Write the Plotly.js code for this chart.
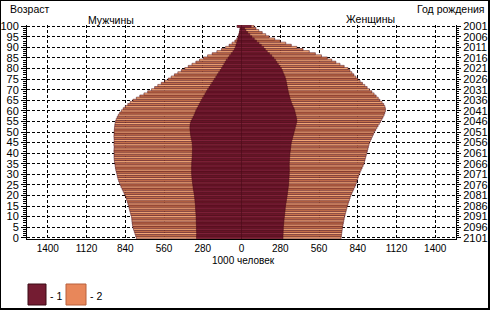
<!DOCTYPE html>
<html>
<head>
<meta charset="utf-8">
<script src="https://cdn.plot.ly/plotly-3.0.1.min.js"></script>
<style>
html,body{margin:0;padding:0;background:#fff;}
#wrap{position:relative;width:490px;height:310px;}
#chart{width:490px;height:310px;}
#frame{position:absolute;left:0;top:0;width:490px;height:310px;box-sizing:border-box;border:1px solid #000;border-right-width:2px;border-bottom-width:2px;pointer-events:none;}
</style>
</head>
<body>
<div id="wrap"><div id="chart"></div><div id="frame"></div></div>
<script>
// Ages 0..100 (single years)
const ages = Array.from({length:101}, (_, i) => i);

// Men: outer edge (series 1 + series 2), thousand people
const maleAll = [
760,765,770,775,780,785,788,790,792,793,
795,800,804,808,812,815,820,825,830,835,
840,848,855,862,870,875,882,888,893,897,
900,904,908,911,913,915,918,920,921,921,
920,922,921,920,922,921,920,921,922,921,
920,919,918,916,914,910,905,898,890,880,
868,855,840,822,805,785,760,735,705,678,
650,628,605,580,555,530,508,485,460,435,
410,385,358,330,303,275,245,212,178,145,
115,90,68,48,34,26,20,15,12,10,32];

// Men: series 1 (dark)
const male1 = [
325,325,324,325,326,325,326,327,327,328,
328,329,330,331,332,332,334,336,337,339,
340,343,345,348,350,352,354,356,358,359,
360,361,360,361,360,360,359,358,357,356,
355,355,354,355,356,357,360,363,366,368,
370,372,373,372,370,365,358,350,342,336,
330,322,314,306,298,290,281,272,263,254,
245,235,225,215,205,195,185,175,165,155,
145,136,127,118,109,97,86,74,62,52,
45,40,35,30,26,22,18,15,12,10,30];

// Women: outer edge (series 1 + series 2)
const femaleAll = [
720,722,724,726,728,730,733,736,739,742,
745,749,753,757,761,765,770,775,780,785,
790,797,804,811,818,825,830,835,840,845,
850,857,864,871,878,885,889,893,897,901,
905,909,913,917,921,925,932,939,946,953,
960,969,978,987,996,1005,1014,1022,1030,1035,
1040,1040,1036,1028,1016,1000,988,973,958,942,
925,908,891,874,857,840,826,812,798,784,
770,742,712,682,652,620,578,534,490,445,
400,360,320,280,240,200,175,150,125,105,90];

// Women: series 1 (dark)
const female1 = [
300,300,301,301,302,302,304,305,307,308,
310,312,313,315,316,318,320,323,325,328,
330,332,334,336,338,340,341,342,343,344,
345,345,346,345,345,345,346,347,348,349,
350,352,354,356,358,360,364,368,372,376,
380,384,388,392,396,400,399,396,392,388,
385,380,373,366,360,355,350,346,342,338,
335,332,329,326,323,320,315,308,301,295,
288,278,266,255,245,232,218,202,186,172,
160,143,126,108,92,75,60,45,32,22,70];

const xTickVals = [-1400,-1120,-840,-560,-280,0,280,560,840,1120,1400];
const xTickText = ['1400','1120','840','560','280','0','280','560','840','1120','1400'];
const ageTicks = [0,5,10,15,20,25,30,35,40,45,50,55,60,65,70,75,80,85,90,95,100];
const birthYearText = ['2101','2096','2091','2086','2081','2076','2071','2066','2061','2056','2051','2046','2041','2036','2031','2026','2021','2016','2011','2006','2001'];

// stripe colours
const orangeCols = ages.map(a => a % 2 ? '#c9734c' : '#f2a676');
const maroonCols = ages.map(a => a % 2 ? '#6a1428' : '#7e2038');
const edge = {color:'#4a0c1a', width:0.5};

const traces = [
  {type:'bar', orientation:'h', y:ages, x:maleAll.map(v=>-v), marker:{color:orangeCols, line:edge}, name:'2', hoverinfo:'skip'},
  {type:'bar', orientation:'h', y:ages, x:femaleAll, marker:{color:orangeCols, line:edge}, name:'2', hoverinfo:'skip'},
  {type:'bar', orientation:'h', y:ages, x:male1.map(v=>-v), marker:{color:maroonCols, line:edge}, name:'1', hoverinfo:'skip'},
  {type:'bar', orientation:'h', y:ages, x:female1, marker:{color:maroonCols, line:edge}, name:'1', hoverinfo:'skip'},
  {type:'scatter', x:[], y:[], yaxis:'y2', hoverinfo:'skip'}
];

const L = 27, R = 456, T = 25, B = 239;
const px = v => (v - L) / (R - L);
const py = v => (B - v) / (B - T);
const font = {family:'Liberation Sans, Arial, sans-serif', size:11, color:'#000'};

const layout = {
  width:490, height:310,
  margin:{l:L, r:490-R, t:T, b:310-B, pad:0},
  paper_bgcolor:'#fff', plot_bgcolor:'#fff',
  showlegend:false,
  barmode:'overlay', bargap:0,
  font:font,
  xaxis:{
    range:[-1550,1550], tickvals:xTickVals, ticktext:xTickText,
    showgrid:true, gridcolor:'#000', gridwidth:1, griddash:'3px,2px',
    zeroline:true, zerolinecolor:'#3a0812', zerolinewidth:1,
    showline:true, linecolor:'#000', linewidth:1,
    ticks:'', tickfont:{family:font.family, size:10, color:'#000'}, fixedrange:true
  },
  yaxis:{
    range:[-0.6,100.6], tickvals:ageTicks, ticktext:ageTicks.map(String),
    showgrid:true, gridcolor:'#000', gridwidth:1, griddash:'3px,2px',
    zeroline:false, showline:true, linecolor:'#000', linewidth:1,
    ticks:'outside', ticklen:5, tickcolor:'#000', tickwidth:1,
    minor:{tickvals:ages, ticks:'outside', ticklen:3, tickcolor:'#000', tickwidth:1, showgrid:false},
    tickfont:{family:font.family, size:11, color:'#000'}, fixedrange:true
  },
  yaxis2:{
    overlaying:'y', side:'right', range:[-0.6,100.6],
    tickvals:ageTicks, ticktext:birthYearText,
    showgrid:false, zeroline:false, showline:true, linecolor:'#000', linewidth:1,
    ticks:'outside', ticklen:4, tickcolor:'#000', tickwidth:1,
    minor:{tickvals:ages, ticks:'outside', ticklen:2, tickcolor:'#000', tickwidth:1, showgrid:false},
    tickfont:{family:font.family, size:11, color:'#000'}, fixedrange:true
  },
  annotations:[
    {text:'Возраст', xref:'paper', yref:'paper', x:px(8), y:py(9), xanchor:'left', yanchor:'middle', showarrow:false, font:{family:font.family, size:10.5, color:'#000'}},
    {text:'Год рождения', xref:'paper', yref:'paper', x:px(487), y:py(9), xanchor:'right', yanchor:'middle', showarrow:false, font:{family:font.family, size:10.5, color:'#000'}},
    {text:'Мужчины', xref:'paper', yref:'paper', x:px(111), y:py(20), xanchor:'center', yanchor:'middle', showarrow:false, font:{family:font.family, size:10.5, color:'#000'}},
    {text:'Женщины', xref:'paper', yref:'paper', x:px(370), y:py(19), xanchor:'center', yanchor:'middle', showarrow:false, font:{family:font.family, size:10.5, color:'#000'}},
    {text:'1000 человек', xref:'paper', yref:'paper', x:px(243), y:py(260), xanchor:'center', yanchor:'middle', showarrow:false, font:{family:font.family, size:10, color:'#000'}},
    {text:'- 1', xref:'paper', yref:'paper', x:px(48), y:py(296), xanchor:'left', yanchor:'middle', showarrow:false, font:{family:font.family, size:10.5, color:'#000'}},
    {text:'- 2', xref:'paper', yref:'paper', x:px(88), y:py(296), xanchor:'left', yanchor:'middle', showarrow:false, font:{family:font.family, size:10.5, color:'#000'}}
  ],
  shapes:[
    {type:'rect', xref:'paper', yref:'paper', x0:px(28), x1:px(46), y0:py(305), y1:py(284), fillcolor:'#741c32', line:{color:'#3a0a14', width:1}},
    {type:'rect', xref:'paper', yref:'paper', x0:px(66), x1:px(86), y0:py(305), y1:py(284), fillcolor:'#e8875a', line:{color:'#b8603c', width:1}}
  ]
};

Plotly.newPlot('chart', traces, layout, {staticPlot:true, displayModeBar:false});
</script>
</body>
</html>
